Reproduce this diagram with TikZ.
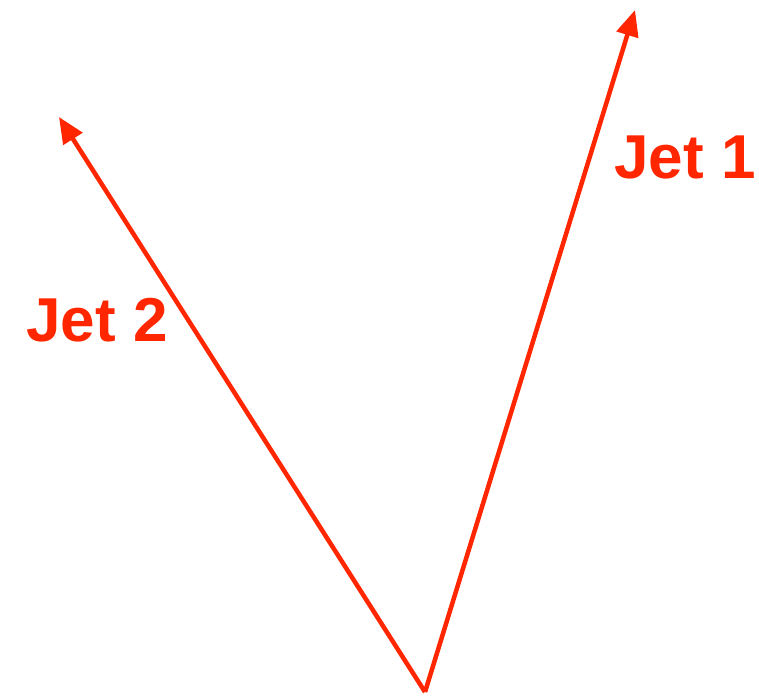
\documentclass[tikz,border=0pt]{standalone}
\usepackage{fontspec}
\setmainfont{Liberation Sans}
\usetikzlibrary{arrows.meta,positioning}
\definecolor{jetred}{RGB}{255,38,0}

\begin{document}
\begin{tikzpicture}[x=1pt,y=-1pt]
\useasboundingbox (0,0) rectangle (759,697);
\tikzset{jet/.style={draw=jetred,line width=4.5pt,-{Triangle[length=26pt,width=22pt]}},
  jetlabel/.style={text=jetred,font=\fontsize{62}{64}\selectfont\bfseries,inner sep=0pt}}
\coordinate (v) at (425,692);
\coordinate (t1) at (635,10);
\coordinate (t2) at (59,117);
\draw[jet] (v) -- (t1);
\draw[jet] (v) -- (t2);
\node[jetlabel] (j1) at (685,157) {Jet 1};
\node[jetlabel] (j2) at (97,320) {Jet 2};
\end{tikzpicture}
\end{document}
